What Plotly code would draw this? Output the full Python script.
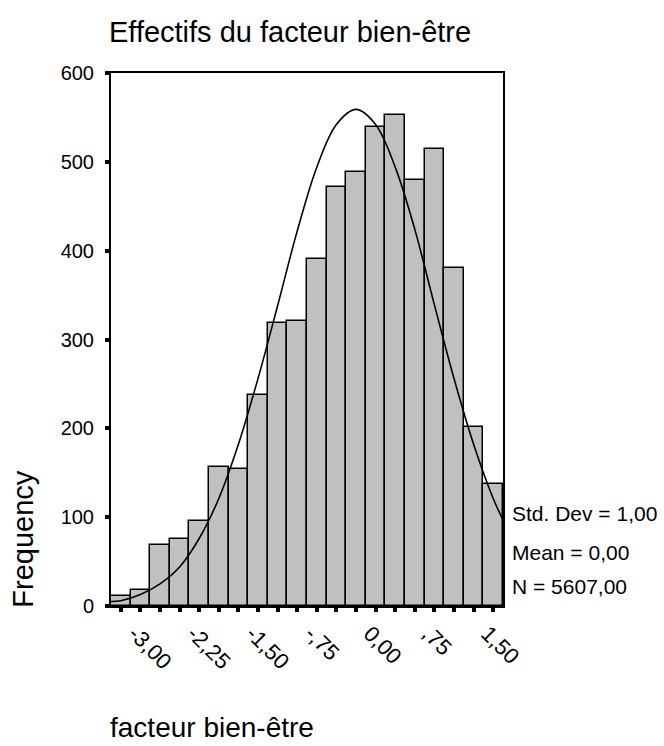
import plotly.graph_objects as go

# ---- data ----
bin_centers = [-3.00, -2.75, -2.50, -2.25, -2.00, -1.75, -1.50, -1.25, -1.00, -0.75,
               -0.50, -0.25, 0.00, 0.25, 0.50, 0.75, 1.00, 1.25, 1.50, 1.75]
frequencies = [11, 18, 69, 75, 96, 156, 154, 237, 319, 321,
               391, 472, 488, 539, 553, 480, 514, 381, 201, 137]
bin_width = 0.25

curve_x = [-3.125, -3.0, -2.75, -2.5, -2.25, -2.0, -1.75, -1.5, -1.25, -1.0, -0.75,
           -0.5, -0.25, 0.0, 0.25, 0.5, 0.75, 1.0, 1.25, 1.5, 1.75, 1.875]
curve_y = [5, 6, 13, 25, 44, 76, 121, 182, 256, 338, 422,
           494, 542, 559, 542, 494, 424, 339, 256, 182, 121, 97]

x_tick_values = [-3.00, -2.25, -1.50, -0.75, 0.00, 0.75, 1.50]
x_tick_labels = ["-3,00", "-2,25", "-1,50", "-,75", "0,00", ",75", "1,50"]
y_tick_values = [0, 100, 200, 300, 400, 500, 600]
y_tick_labels = ["0", "100", "200", "300", "400", "500", "600"]

stats_lines = ["Std. Dev = 1,00", "Mean = 0,00", "N = 5607,00"]

title_text = "Effectifs du facteur bien-être"
x_title = "facteur bien-être"
y_title = "Frequency"

FONT = "Liberation Sans, Arial, Helvetica, sans-serif"

label_map = dict(zip(x_tick_values, x_tick_labels))
all_ticktext = [label_map.get(v, "") for v in bin_centers]

fig = go.Figure()
fig.add_trace(go.Bar(
    x=bin_centers, y=frequencies, width=bin_width,
    marker=dict(color="#c0c0c0", line=dict(color="black", width=1.5)),
    hoverinfo="x+y",
))
fig.add_trace(go.Scatter(
    x=curve_x, y=curve_y, mode="lines",
    line=dict(color="black", width=1.6, shape="spline", smoothing=1.0),
    hoverinfo="skip",
))

axis_common = dict(
    showline=True, linewidth=2, linecolor="black", mirror=True,
    ticks="outside", ticklen=4, tickwidth=4, tickcolor="black",
    showgrid=False, zeroline=False,
)

fig.update_xaxes(range=[-3.125, 1.875], tickvals=bin_centers, ticktext=all_ticktext,
                 tickangle=45, ticklabelshift=14, ticklabelstandoff=0,
                 tickfont=dict(family=FONT, size=22, color="black"), **axis_common)
fig.update_yaxes(range=[0, 600], tickvals=y_tick_values, ticktext=y_tick_labels,
                 ticklabelstandoff=7,
                 tickfont=dict(family=FONT, size=20, color="black"), **axis_common)

annotations = [
    dict(text=title_text, xref="paper", yref="paper", x=-0.011, y=1.044,
         xanchor="left", yanchor="bottom", showarrow=False,
         font=dict(family=FONT, size=29, color="black")),
    dict(text=x_title, xref="paper", yref="paper", x=-0.0066, y=-0.2617,
         xanchor="left", yanchor="bottom", showarrow=False,
         font=dict(family=FONT, size=28, color="black")),
    dict(text=y_title, xref="paper", yref="paper", x=-0.2239, y=0.1268,
         xanchor="center", yanchor="middle", showarrow=False, textangle=-90,
         font=dict(family=FONT, size=29, color="black")),
]
stat_y = [0.1473, 0.0750, 0.01163]
for line, yy in zip(stats_lines, stat_y):
    annotations.append(dict(text=line, xref="paper", yref="paper", x=1.0171, y=yy,
                            xanchor="left", yanchor="bottom", showarrow=False,
                            font=dict(family=FONT, size=21, color="black")))

fig.update_layout(
    width=664, height=746,
    margin=dict(l=111, r=161, t=73, b=140),
    paper_bgcolor="white", plot_bgcolor="white",
    showlegend=False, bargap=0,
    annotations=annotations,
)

# remove the default page margin so the figure sits at the window's top-left corner
fig.write_html(
    "out.html",
    config={"displayModeBar": False},
    post_script="document.body.style.margin='0';document.body.style.overflow='hidden';",
)
